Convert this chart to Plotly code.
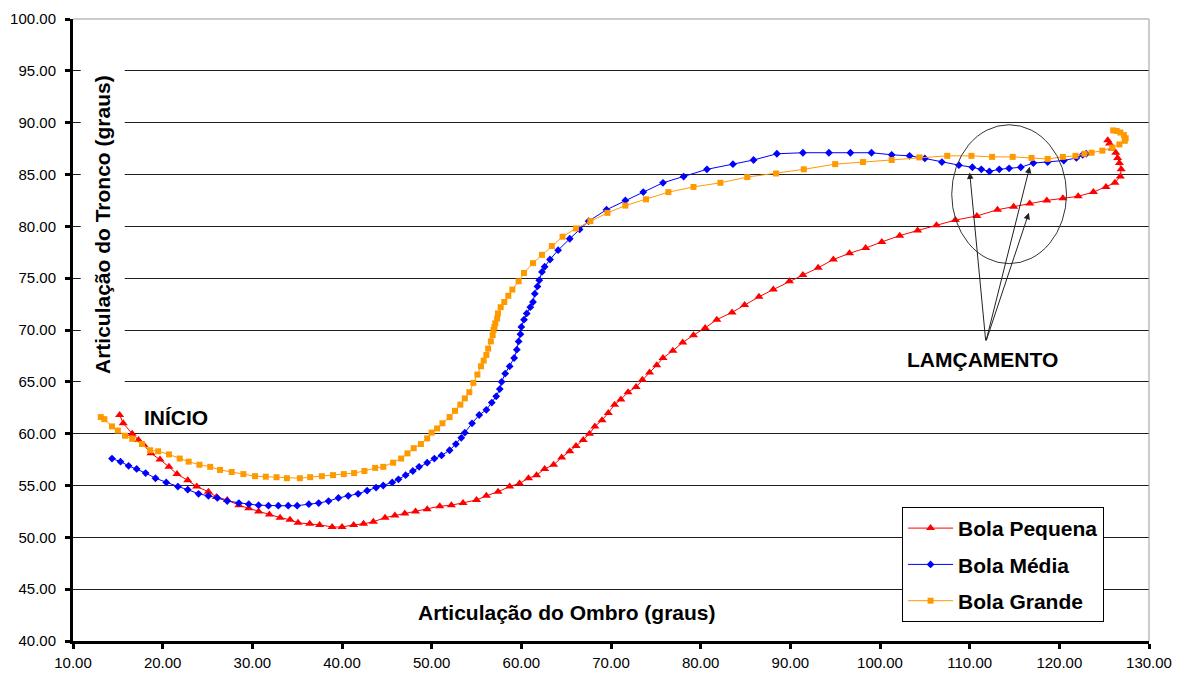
import plotly.graph_objects as go

# Shoulder (x) vs trunk (y) joint angles, in degrees, for three ball sizes
pequena_x = [15.2, 15.6, 16.6, 17.3, 17.9, 18.7, 19.7, 20.7, 21.6, 22.8, 23.8, 25.1, 26.0, 27.2,
             28.5, 29.6, 30.7, 31.9, 33.1, 34.2, 35.1, 36.4, 37.5, 38.9, 40.0, 41.3, 42.4, 43.5,
             44.8, 45.9, 47.0, 48.2, 49.5, 50.9, 52.2, 53.5, 55.0, 56.1, 57.4, 58.7, 59.8, 60.8,
             61.7, 62.6, 63.6, 64.5, 65.4, 66.1, 66.9, 67.6, 68.2, 69.0, 69.7, 70.4, 71.1, 71.9,
             72.8, 73.5, 74.3, 75.1, 75.8, 76.9, 78.0, 79.2, 80.5, 81.8, 83.5, 84.9, 86.5, 88.1,
             89.9, 91.4, 93.1, 94.8, 96.6, 98.4, 100.2, 102.2, 104.2, 106.3, 108.4, 110.8, 113.1,
             114.9, 116.7, 118.6, 120.4, 122.1, 123.8, 125.2, 126.2, 126.8, 126.9, 126.7, 126.5,
             126.3, 125.9, 125.6, 125.4]
pequena_y = [61.8, 61.0, 60.0, 59.4, 58.9, 58.1, 57.5, 56.8, 56.1, 55.5, 54.9, 54.4, 53.9, 53.6,
             53.1, 52.8, 52.5, 52.2, 51.9, 51.7, 51.4, 51.3, 51.2, 51.0, 51.0, 51.2, 51.3, 51.5,
             51.9, 52.1, 52.3, 52.5, 52.7, 53.0, 53.1, 53.3, 53.6, 54.0, 54.4, 54.9, 55.2, 55.7,
             56.0, 56.6, 57.0, 57.7, 58.3, 58.8, 59.4, 60.0, 60.7, 61.3, 62.0, 62.8, 63.3, 64.0,
             64.5, 65.2, 65.9, 66.6, 67.3, 68.0, 68.8, 69.5, 70.2, 71.0, 71.7, 72.4, 73.2, 73.9,
             74.7, 75.3, 76.0, 76.8, 77.4, 77.9, 78.5, 79.1, 79.6, 80.1, 80.6, 81.0, 81.6,
             81.9, 82.2, 82.5, 82.7, 82.9, 83.3, 83.8, 84.2, 84.8, 85.5, 86.1, 86.6,
             87.1, 87.5, 88.0, 88.3]

media_x = [14.35, 15.3, 16.2, 17.1, 18.1, 19.2, 20.4, 21.7, 22.8, 24.0, 25.1, 26.1, 27.2, 28.5,
           29.6, 30.7, 31.8, 32.9, 34.0, 35.0, 36.3, 37.4, 38.5, 39.6, 40.7, 41.8, 42.8, 43.8,
           44.6, 45.6, 46.3, 47.1, 47.9, 48.6, 49.5, 50.3, 51.1, 52.0, 52.7, 53.3, 53.7, 54.5,
           55.3, 56.1, 56.7, 57.2, 57.6, 57.8, 58.2, 58.7, 59.2, 59.5, 59.7, 59.9, 60.0, 60.3,
           60.6, 61.0, 61.3, 61.5, 61.8, 62.0, 62.3, 62.6, 63.2, 64.1, 65.4, 66.5, 67.5, 69.5,
           71.6, 73.6, 75.8, 78.1, 80.7, 83.6, 85.9, 88.5, 91.4, 94.3, 96.7, 99.05, 101.3, 103.3,
           105.0, 106.9, 108.8, 110.3, 111.3, 112.2, 113.3, 114.4, 115.7, 117.1, 118.7, 120.5,
           121.9, 122.6, 123.0]
media_y = [57.6, 57.3, 56.9, 56.6, 56.2, 55.7, 55.3, 54.9, 54.6, 54.2, 54.0, 53.8, 53.5, 53.3,
           53.2, 53.1, 53.05, 53.05, 53.05, 53.05, 53.2, 53.3, 53.5, 53.8, 54.0, 54.2, 54.5, 54.8,
           55.0, 55.3, 55.6, 56.0, 56.4, 56.8, 57.2, 57.6, 57.9, 58.4, 59.0, 59.6, 60.1, 61.0,
           61.8, 62.3, 63.0, 63.6, 64.3, 65.0, 65.8, 66.5, 67.3, 68.1, 68.9, 69.6, 70.3, 71.0,
           71.6, 72.2, 72.7, 73.5, 74.2, 74.8, 75.6, 76.1, 76.8, 77.7, 78.8, 79.7, 80.5, 81.6,
           82.5, 83.3, 84.2, 84.8, 85.5, 86.0, 86.4, 87.0, 87.1, 87.1, 87.1, 87.1, 86.9, 86.8,
           86.55, 86.2, 85.9, 85.7, 85.5, 85.3, 85.5, 85.6, 85.7, 86.1, 86.2, 86.35,
           86.6, 86.9, 87.0]

grande_x = [13.1, 13.5, 14.35, 15.0, 15.8, 16.6, 17.7, 18.6, 19.5, 20.7, 21.9, 22.9, 24.1, 25.3,
            26.4, 27.7, 29.0, 30.3, 31.5, 32.7, 33.85, 35.3, 36.45, 37.75, 39.0, 40.2, 41.35,
            42.5, 43.7, 44.6, 45.7, 46.6, 47.3, 48.0, 48.8, 49.5, 50.0, 50.6, 51.2, 52.0, 52.6,
            53.2, 53.7, 54.2, 54.65, 55.1, 55.5, 55.8, 56.1, 56.3, 56.6, 56.8, 56.9, 57.0, 57.1,
            57.3, 57.4, 57.7, 58.1, 58.55, 59.0, 59.7, 60.3, 61.3, 62.3, 63.4, 64.6, 66.1, 67.7,
            69.6, 71.6, 73.9, 76.4, 79.2, 82.2, 85.2, 88.4, 91.5, 95.0, 98.1, 101.3, 104.4,
            107.5, 110.2, 112.5, 114.8, 116.9, 118.7, 120.4, 121.8, 122.8, 123.6, 124.8, 125.9,
            126.7, 127.3, 127.4, 127.2, 126.8, 126.4, 126.0]
grande_y = [61.6, 61.4, 60.7, 60.3, 59.8, 59.5, 59.0, 58.4, 58.3, 58.0, 57.6, 57.3, 57.0, 56.8,
            56.5, 56.3, 56.1, 55.9, 55.85, 55.8, 55.7, 55.7, 55.8, 55.9, 56.0, 56.1, 56.2,
            56.4, 56.7, 56.8, 57.2, 57.6, 58.1, 58.6, 59.0, 59.55, 60.1, 60.5, 61.0, 61.6, 62.2,
            62.8, 63.4, 64.0, 64.9, 65.7, 66.5, 67.05, 67.6, 68.2, 68.9, 69.5, 70.0, 70.3, 70.65,
            71.1, 71.6, 72.2, 72.7, 73.3, 73.9, 74.7, 75.5, 76.45, 77.25, 78.1, 79.0, 79.8, 80.5,
            81.3, 82.0, 82.6, 83.3, 83.8, 84.2, 84.75, 85.1, 85.5, 86.0, 86.2, 86.4, 86.65,
            86.8, 86.8, 86.7, 86.7, 86.6, 86.5, 86.7, 86.8, 87.0, 87.1, 87.3, 87.6,
            87.9, 88.25, 88.5, 88.8, 89.05, 89.2, 89.25]

y_ticks = [40, 45, 50, 55, 60, 65, 70, 75, 80, 85, 90, 95, 100]
x_ticks = [10, 20, 30, 40, 50, 60, 70, 80, 90, 100, 110, 120, 130]

FONT = "Liberation Sans, Arial, sans-serif"
TITLE_FONT = dict(family=FONT, size=21, color="#000", weight="bold")

fig = go.Figure()

series = [
    ("Bola Pequena", pequena_x, pequena_y, "#FF0000", "triangle-up", 8),
    ("Bola Média", media_x, media_y, "#0000FF", "diamond", 6),
    ("Bola Grande", grande_x, grande_y, "#FF9900", "square", 6),
]
for i, (name, xs, ys, color, symbol, size) in enumerate(series):
    fig.add_trace(go.Scatter(
        x=xs, y=ys, name=name, mode="lines+markers",
        line=dict(color=color, width=1),
        marker=dict(color=color, symbol=symbol, size=size, line=dict(width=0)),
        legendgroup=f"g{i}",
    ))

# Release-phase highlight: ellipse and arrows
fig.add_shape(type="circle", xref="x", yref="y", x0=108.0, x1=120.8, y0=76.4, y1=89.8,
              line=dict(color="#333333", width=1))

arrow_tail = (111.8, 68.85)
arrow_heads = [(110.0, 85.2), (116.7, 85.75), (116.6, 81.3)]
for hx, hy in arrow_heads:
    fig.add_annotation(x=hx, y=hy, ax=arrow_tail[0], ay=arrow_tail[1],
                       xref="x", yref="y", axref="x", ayref="y",
                       showarrow=True, arrowhead=2, arrowsize=1.3, arrowwidth=1,
                       arrowcolor="#222222", text="")

fig.add_annotation(x=111.4, y=67.2, xref="x", yref="y", text="LAMÇAMENTO",
                   xanchor="center", yanchor="middle",
                   showarrow=False, font=TITLE_FONT)
fig.add_annotation(x=21.5, y=61.6, xref="x", yref="y", text="INÍCIO",
                   xanchor="center", yanchor="middle",
                   showarrow=False, font=TITLE_FONT)

# Axis titles
fig.add_annotation(x=0.459, y=0.046, xref="paper", yref="paper",
                   xanchor="center", yanchor="middle",
                   text="Articulação do Ombro (graus)", showarrow=False,
                   font=TITLE_FONT)
fig.add_annotation(x=0.028, y=0.669, xref="paper", yref="paper",
                   xanchor="center", yanchor="middle",
                   text="Articulação do Tronco (graus)", showarrow=False,
                   textangle=-90, bgcolor="white", borderpad=10,
                   font=TITLE_FONT)

# Light plot-area border on top and right
fig.add_shape(type="line", xref="paper", yref="paper", x0=0, x1=1, y0=1, y1=1,
              line=dict(color="#9a9a9a", width=1), layer="above")
fig.add_shape(type="line", xref="paper", yref="paper", x0=1, x1=1, y0=0, y1=1,
              line=dict(color="#9a9a9a", width=1), layer="above")

fig.update_layout(
    width=1181, height=673,
    margin=dict(l=73, r=32, t=19, b=32),
    paper_bgcolor="white", plot_bgcolor="white",
    font=dict(family=FONT, size=15, color="#000"),
    showlegend=True,
    legend=dict(x=0.7705, y=0.2155, xanchor="left", yanchor="top",
                bgcolor="white", bordercolor="#000", borderwidth=1,
                font=dict(family=FONT, size=21, color="#000", weight="bold"),
                traceorder="grouped", tracegroupgap=6, itemwidth=45),
    xaxis=dict(range=[10, 130], tickvals=x_ticks, tickformat=".2f",
               showgrid=False, zeroline=False, automargin=False,
               showline=True, linecolor="#000", linewidth=3,
               ticks="outside", ticklen=5, tickwidth=3, tickcolor="#000",
               ticklabelstandoff=1,
               tickfont=dict(family=FONT, size=15, color="#000")),
    yaxis=dict(range=[40, 100], tickvals=y_ticks, tickformat=".2f",
               showgrid=True, gridcolor="#1e1e1e", gridwidth=1.3, zeroline=False,
               automargin=False,
               showline=True, linecolor="#000", linewidth=3,
               ticks="outside", ticklen=5, tickwidth=3, tickcolor="#000",
               ticklabelstandoff=6,
               tickfont=dict(family=FONT, size=15, color="#000")),
)

fig.write_html("out.html")
